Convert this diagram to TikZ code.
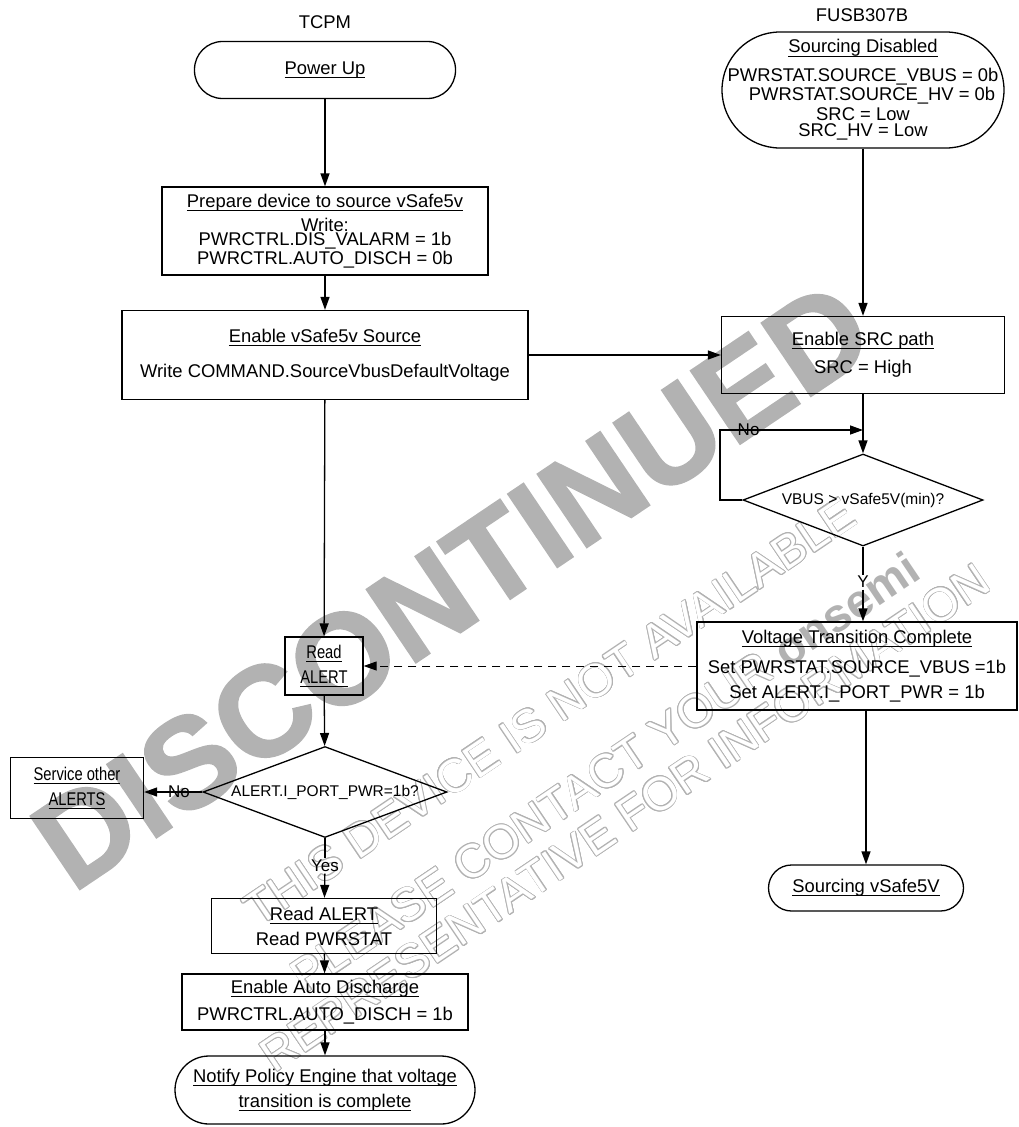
\documentclass[tikz,border=0pt]{standalone}
\usepackage{fontspec}
\setmainfont{Liberation Sans}
\newfontfamily\narrowfont[FakeStretch=0.8]{Liberation Sans}
\newfontfamily\heavyfont[FakeBold=1.6]{Liberation Sans Bold}
\usepackage{contour}
\contourlength{0.8pt}
\usetikzlibrary{shapes.geometric,arrows.meta}
\definecolor{wm}{RGB}{178,178,178}
\newcommand\mainfs{\fontsize{18.4}{22}\selectfont}
\newcommand\smallfs{\fontsize{15.5}{19}\selectfont}
\newcommand\lblfs{\fontsize{17}{20}\selectfont}
\newcommand\narrowfs{\narrowfont\fontsize{18.4}{22}\selectfont}
\newcommand\wmfs{\fontsize{47}{50}\selectfont}
\newcommand\undl[1]{\setbox0=\hbox{#1}\rlap{\rule[-3.5pt]{\wd0}{0.8pt}}\box0}
\tikzset{
  box/.style={draw,line width=1.3pt,inner sep=0pt,align=center},
  term/.style={box,rounded corners=#1},
  dec/.style={draw,diamond,aspect=2.6,line width=1.3pt,inner sep=0pt,font=\smallfs},
  lab/.style={font=\lblfs,inner sep=1pt}
}
\begin{document}
\begin{tikzpicture}[x=1pt,y=-1pt,>={Triangle[length=13pt,width=9pt]},line width=1.3pt,font=\mainfs]
\useasboundingbox (0,0) rectangle (1018,1127);
% watermark
\node[text=wm,rotate=34,font=\heavyfont\fontsize{128}{128}\selectfont] (wmbig) at (452,585) {DISCONTINUED};
\node[rotate=34,font=\wmfs] (wmone) at (550,712) {\contour{wm}{\textcolor{white}{THIS DEVICE IS NOT AVAILABLE}}};
\node[rotate=34,font=\wmfs] (wmtwo) at (605,772) {\contour{wm}{\textcolor{white}{PLEASE CONTACT YOUR}} \textcolor{wm}{\bfseries onsemi}};
\node[rotate=34,font=\wmfs] (wmthree) at (625,818) {\contour{wm}{\textcolor{white}{REPRESENTATIVE FOR INFORMATION}}};
% TCPM side
\node (tcpm) at (325,22) {TCPM};
\node[term=28pt,minimum width=261,minimum height=57] (pwrup) at (325,70) {\undl{Power Up}};
\node[box,minimum width=326,minimum height=88] (prep) at (325,231) {\undl{Prepare device to source vSafe5v}\\[2pt] Write:\\[-8pt] PWRCTRL.DIS\_VALARM = 1b\\[-3pt] PWRCTRL.AUTO\_DISCH = 0b};
\node[box,minimum width=406,minimum height=89] (ensafe) at (325,355) {\undl{Enable vSafe5v Source}\\[13pt] Write COMMAND.SourceVbusDefaultVoltage};
\node[box,font=\narrowfs,minimum width=78,minimum height=58] (rdalert) at (324,666) {\undl{Read}\\[3pt] \undl{ALERT}};
\node[dec,minimum width=244,minimum height=91] (pwrq) at (325,792) {ALERT.I\_PORT\_PWR=1b?};
\node[box,font=\narrowfs,minimum width=133,minimum height=61] (svc) at (77,788) {\undl{Service other}\\[3pt] \undl{ALERTS}};
\node[lab] (yeslab) at (325,866) {Yes};
\node[box,minimum width=225,minimum height=55] (rdboth) at (324,926) {\undl{Read ALERT}\\[3pt] Read PWRSTAT};
\node[box,minimum width=286,minimum height=56] (autodis) at (325,1002) {\undl{Enable Auto Discharge}\\[5pt] PWRCTRL.AUTO\_DISCH = 1b};
\node[term=34pt,minimum width=300,minimum height=68] (notify) at (325,1090) {\undl{Notify Policy Engine that voltage}\\[3pt] \undl{transition is complete}};
% FUSB307B side
\node (fusb) at (862,15) {FUSB307B};
\node[term=58pt,minimum width=282,minimum height=116] (srcdis) at (863,90) {\undl{Sourcing Disabled}\\[7pt] PWRSTAT.SOURCE\_VBUS = 0b\\[-3pt] \hspace*{18pt}PWRSTAT.SOURCE\_HV = 0b\\[-2pt] SRC = Low\\[-6pt] SRC\_HV = Low};
\node[box,minimum width=283,minimum height=77] (ensrc) at (863,355) {\undl{Enable SRC path}\\[6pt] SRC = High};
\coordinate (mrg) at (863,430);
\node[dec,minimum width=240,minimum height=92] (vbus) at (863,500) {VBUS > vSafe5V(min)?};
\node[lab] (ylab) at (863,582) {Y};
\node[box,minimum width=320,minimum height=88] (vtc) at (857,666) {\undl{Voltage Transition Complete}\\[8pt] Set PWRSTAT.SOURCE\_VBUS =1b\\[3pt] Set ALERT.I\_PORT\_PWR = 1b};
\node[term=23pt,minimum width=195,minimum height=46] (srcok) at (866,888) {\undl{Sourcing vSafe5V}};
% connectors
\draw[->] (pwrup) -- (prep);
\draw[->] (prep) -- (ensafe);
\draw[->] (ensafe.east) -- (ensafe.east -| ensrc.west);
\draw[->] (ensafe) -- (rdalert);
\draw[->] (rdalert) -- (pwrq);
\draw[->] (pwrq.west) -- node[lab,pos=0.4]{No} (pwrq.west -| svc.east);
\draw (pwrq) -- (yeslab);
\draw[->] (yeslab) -- (rdboth);
\draw[->] (rdboth) -- (autodis);
\draw[->] (autodis) -- (notify);
\draw[->] (srcdis) -- (ensrc);
\draw[->] (ensrc) -- (vbus);
\draw[->] (vbus.west) -- (720,500) |- node[lab,pos=0.6]{No} (mrg);
\draw (vbus) -- (ylab);
\draw[->] (ylab) -- (ylab |- vtc.north);
\draw[->] (vtc.south -| srcok) -- (srcok);
\draw[->,line width=1pt,dash pattern=on 8pt off 6pt] (vtc.west) -- (rdalert.east);
\end{tikzpicture}
\end{document}
